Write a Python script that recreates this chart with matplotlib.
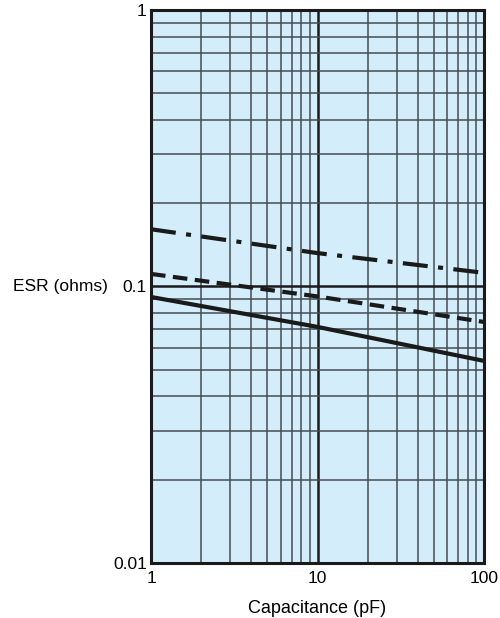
import numpy as np
import matplotlib.pyplot as plt
from matplotlib.ticker import LogLocator, NullFormatter, FixedLocator

plt.rcParams['font.family'] = ['Liberation Sans', 'DejaVu Sans']

# capacitance (pF) vs ESR (ohms), three curves
cap = [1, 10, 100]
esr_dashdot = [0.161, 0.132, 0.112]
esr_dashed = [0.111, 0.092, 0.0744]
esr_solid = [0.0916, 0.0714, 0.0538]

xticks = [1, 10, 100]
xticklabels = ['1', '10', '100']
yticks = [0.01, 0.1, 1]
yticklabels = ['0.01', '0.1', '1']

fig = plt.figure(figsize=(5, 6.18), dpi=100)
ax = fig.add_axes([0.302, 0.089, 0.666, 0.895])
ax.set_facecolor('#d3eefa')

ax.set_xscale('log')
ax.set_yscale('log')
ax.set_xlim(1, 100)
ax.set_ylim(0.01, 1)

# grid: minor lines thin, decade lines heavier
ax.xaxis.set_minor_locator(LogLocator(base=10, subs=np.arange(2, 10)))
ax.yaxis.set_minor_locator(LogLocator(base=10, subs=np.arange(2, 10)))
ax.xaxis.set_minor_formatter(NullFormatter())
ax.yaxis.set_minor_formatter(NullFormatter())
ax.grid(which='minor', color='#464c52', linewidth=1.1)
ax.grid(which='major', color='#1a1a1a', linewidth=1.8)
ax.set_axisbelow(True)

ax.plot(cap, esr_dashdot, color='#1a1a1a', lw=3, ls=(0, (6, 2.5, 1.2, 2.5)))
ax.plot(cap, esr_dashed, color='#1a1a1a', lw=3, ls=(0, (3.5, 1.8)))
ax.plot(cap, esr_solid, color='#1a1a1a', lw=3, ls='-')

ax.xaxis.set_major_locator(FixedLocator(xticks))
ax.yaxis.set_major_locator(FixedLocator(yticks))
ax.set_xticklabels(xticklabels, fontsize=12.5)
ax.set_yticklabels(yticklabels, fontsize=12.5)
ax.tick_params(which='both', length=0, pad=3)
ax.tick_params(axis='x', pad=6)

for s in ax.spines.values():
    s.set_linewidth(2.2)
    s.set_color('#1a1a1a')

ax.set_xlabel('Capacitance (pF)', fontsize=13, labelpad=10)
ax.set_ylabel('ESR (ohms)', fontsize=12.5, rotation=0, ha='right', va='center')
ax.yaxis.set_label_coords(-0.13, 0.5)

fig.savefig('out.png', dpi=100)
